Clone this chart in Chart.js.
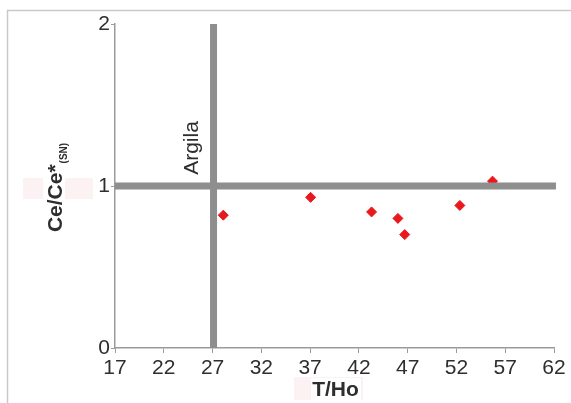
<!DOCTYPE html>
<html>
<head>
<meta charset="utf-8">
<script src="https://cdn.jsdelivr.net/npm/chart.js@4.4.1/dist/chart.umd.min.js"></script>
<style>
  html, body { margin: 0; padding: 0; background: #ffffff; }
  #wrap { width: 571px; height: 403px; position: relative; }
  canvas { display: block; }
</style>
</head>
<body>
<div id="wrap"><canvas id="chart" width="571" height="403"></canvas></div>
<script>
// Sample values: T/Ho ratio vs. shale-normalised Ce anomaly
const thoValues = [28.1, 37.05, 43.3, 46.0, 46.7, 52.35, 55.7];
const ceAnomaly = [0.82, 0.93, 0.84, 0.80, 0.70, 0.88, 1.03];

// Axis tick values
const xTickValues = [17, 22, 27, 32, 37, 42, 47, 52, 57, 62];
const yTickValues = [0, 1, 2];

// Shale (Argila) reference values
const shaleTHo = 27.1;
const shaleCe = 1;
const shaleLabel = 'Argila';

const xTitle = 'T/Ho';
const yTitleMain = 'Ce/Ce*';
const yTitleSub = '(SN)';

const FONT = '"Liberation Sans", Arial, Helvetica, sans-serif';
const TEXT = '#2e2e2e';
const AXIS = '#9a9a9a';
const REF = '#8e8e8e';

const samplePoints = thoValues.map((x, i) => ({ x: x, y: ceAnomaly[i] }));

const decorPlugin = {
  id: 'decor',
  beforeDraw(chart) {
    const ctx = chart.ctx;
    ctx.save();
    ctx.fillStyle = '#ffffff';
    ctx.fillRect(0, 0, chart.width, chart.height);
    // outer frame (left and top edges)
    ctx.strokeStyle = '#c9c9c9';
    ctx.lineWidth = 1.5;
    ctx.beginPath();
    ctx.moveTo(7.5, chart.height);
    ctx.lineTo(7.5, 10.5);
    ctx.lineTo(chart.width, 10.5);
    ctx.stroke();
    // faint label boxes
    ctx.fillStyle = '#fdf2f3';
    ctx.fillRect(23, 178, 70, 21);
    ctx.fillRect(294, 377, 69, 23);
    ctx.fillStyle = '#ffffff';
    ctx.fillRect(43, 176, 22, 25);
    ctx.fillRect(311, 378, 50, 22);
    ctx.restore();
  },
  afterDraw(chart) {
    const ctx = chart.ctx;
    const xs = chart.scales.x, ys = chart.scales.y;
    const area = chart.chartArea;
    ctx.save();
    ctx.fillStyle = TEXT;

    // x title
    ctx.font = 'bold 21px ' + FONT;
    ctx.textAlign = 'center';
    ctx.textBaseline = 'alphabetic';
    ctx.fillText(xTitle, (area.left + area.right) / 2 + 1, 396);

    // y title with subscript, rotated
    ctx.save();
    ctx.translate(62, (area.top + area.bottom) / 2 + 2);
    ctx.rotate(-Math.PI / 2);
    ctx.font = 'bold 21px ' + FONT;
    const w1 = ctx.measureText(yTitleMain).width;
    ctx.font = 'bold 10px ' + FONT;
    const w2 = ctx.measureText(yTitleSub).width;
    const start = -(w1 + w2) / 2;
    ctx.textAlign = 'left';
    ctx.font = 'bold 21px ' + FONT;
    ctx.fillText(yTitleMain, start, 0);
    ctx.font = 'bold 10px ' + FONT;
    ctx.fillText(yTitleSub, start + w1 + 1, 5);
    ctx.restore();

    // shale reference label beside the vertical line
    ctx.save();
    const lx = xs.getPixelForValue(shaleTHo) - 16;
    const ly = ys.getPixelForValue(shaleCe) - 38;
    ctx.translate(lx, ly);
    ctx.rotate(-Math.PI / 2);
    ctx.font = '21px ' + FONT;
    ctx.textAlign = 'center';
    ctx.textBaseline = 'alphabetic';
    ctx.fillText(shaleLabel, 0, 0);
    ctx.restore();

    ctx.restore();
  }
};

new Chart(document.getElementById('chart'), {
  type: 'scatter',
  data: {
    datasets: [
      {
        label: 'shale-ce',
        data: [{ x: xTickValues[0], y: shaleCe }, { x: 62.2, y: shaleCe }],
        showLine: true,
        borderColor: REF,
        borderWidth: 7,
        borderCapStyle: 'butt',
        pointRadius: 0,
        clip: false,
        order: 0
      },
      {
        label: 'shale-tho',
        data: [{ x: shaleTHo, y: yTickValues[0] }, { x: shaleTHo, y: yTickValues[yTickValues.length - 1] }],
        showLine: true,
        borderColor: REF,
        borderWidth: 7,
        borderCapStyle: 'butt',
        pointRadius: 0,
        clip: false,
        order: 0
      },
      {
        label: 'samples',
        data: samplePoints,
        pointStyle: 'rectRot',
        pointRadius: 5,
        pointBackgroundColor: '#e8181c',
        pointBorderColor: '#e8181c',
        pointBorderWidth: 1,
        order: 1
      }
    ]
  },
  options: {
    responsive: false,
    animation: false,
    events: [],
    layout: { padding: { left: 0, top: 24, right: 17, bottom: 0 } },
    plugins: {
      legend: { display: false },
      tooltip: { enabled: false }
    },
    scales: {
      x: {
        type: 'linear',
        min: xTickValues[0],
        max: xTickValues[xTickValues.length - 1],
        afterBuildTicks: s => { s.ticks = xTickValues.map(v => ({ value: v })); },
        afterFit: s => { s.height = 55; },
        grid: { drawOnChartArea: false, drawTicks: true, tickLength: 5, color: AXIS, lineWidth: 1 },
        border: { color: AXIS, width: 1.5 },
        ticks: {
          autoSkip: false,
          maxRotation: 0,
          padding: 3,
          color: TEXT,
          font: { family: FONT, size: 21 }
        }
      },
      y: {
        type: 'linear',
        min: yTickValues[0],
        max: yTickValues[yTickValues.length - 1],
        afterBuildTicks: s => { s.ticks = yTickValues.map(v => ({ value: v })); },
        afterFit: s => { s.width = 115; },
        grid: { drawOnChartArea: false, drawTicks: true, tickLength: 4, color: AXIS, lineWidth: 1 },
        border: { color: AXIS, width: 1.5 },
        ticks: {
          autoSkip: false,
          padding: 1,
          color: TEXT,
          font: { family: FONT, size: 21 }
        }
      }
    }
  },
  plugins: [decorPlugin]
});
</script>
</body>
</html>
